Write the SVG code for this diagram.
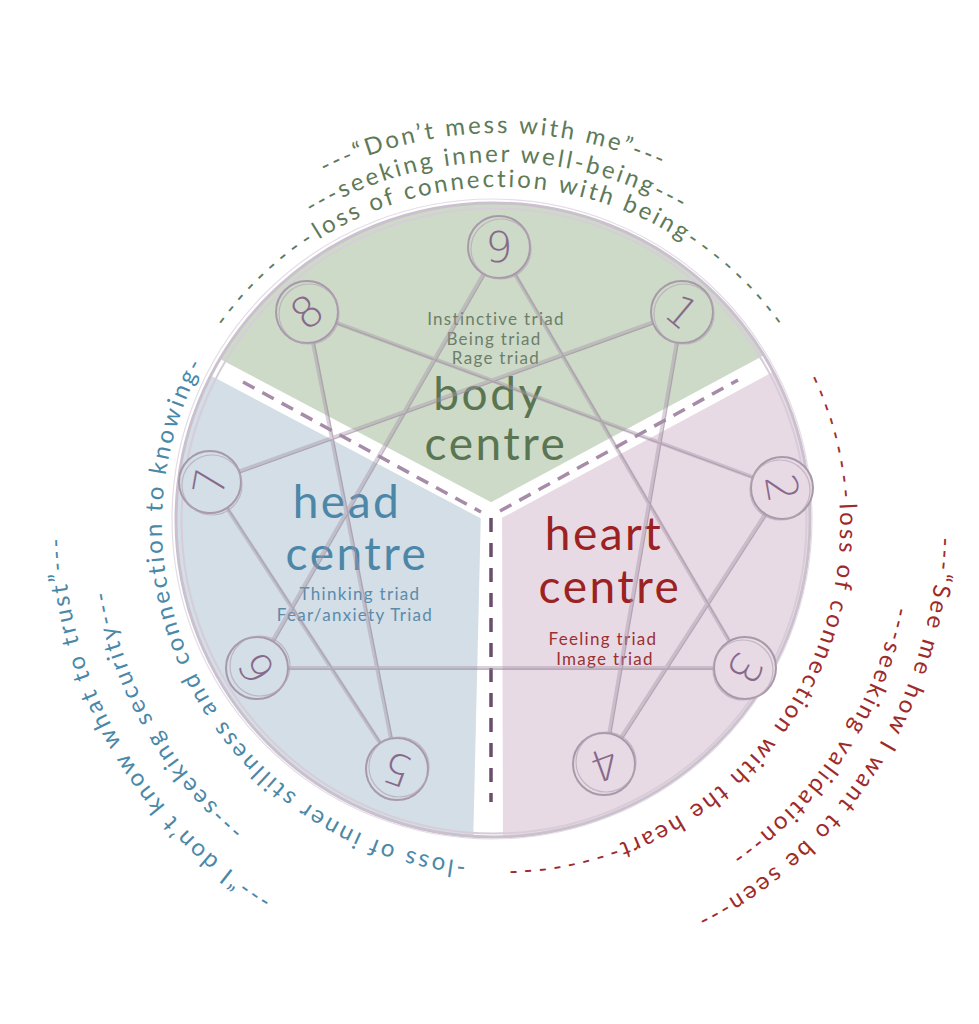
<svg xmlns="http://www.w3.org/2000/svg" width="979" height="1024" viewBox="0 0 979 1024">
<defs>
<style>
.arc { font-family: Lato, "Open Sans", sans-serif; font-size: 24px; letter-spacing: 2.75px; text-anchor: middle; }
.g { fill: #5e7a58; }
.b { fill: #4a88a8; }
.r { fill: #9e2a2a; }
.dash { letter-spacing: 5.5px; }
.big { font-family: Lato, "Open Sans", sans-serif; font-size: 46px; letter-spacing: 2.5px; text-anchor: middle; }
.small { font-family: Lato, "Open Sans", sans-serif; font-size: 17px; letter-spacing: 1.3px; text-anchor: middle; }
.ring { fill: none; stroke: #a899aa; stroke-width: 2; }
.ring2 { fill: none; stroke: #b3a5b5; stroke-width: 1.2; stroke-opacity: 0.7; }
.num { font-family: "DejaVu Sans", sans-serif; font-size: 43px; font-weight: 200; fill: #87698b; text-anchor: middle; dominant-baseline: central; }
.line { stroke: #a594a8; stroke-width: 4; stroke-opacity: 0.42; stroke-linejoin: round; fill: none; }
.line2 { stroke: #9a889d; stroke-width: 1.2; stroke-opacity: 0.5; fill: none; }
.gap { stroke: #ffffff; stroke-width: 19; }
.sep { stroke: #a68ca8; stroke-width: 3.5; stroke-dasharray: 13 9; fill: none; }
.sepv { stroke: #6b4d6e; stroke-width: 3.5; stroke-dasharray: 14 11; fill: none; }
.gs { fill: #cddac8; }
.bs { fill: #d3dee6; }
.ps { fill: #e8dae4; }
</style>
<path id="pT1" d="M108.96,497.65 A392,392 0 0 1 889.85,484.03"/>
<path id="pT2" d="M138.12,496.52 A363,363 0 0 1 861.33,490.21"/>
<path id="pT3" d="M163.50,493.19 A338,338 0 0 1 836.91,497.89"/>
<path id="pL1" d="M630.44,836.82 A338,338 0 0 1 317.40,240.57"/>
<path id="pL2" d="M665.68,886.88 A398,398 0 0 1 274.04,197.36"/>
<path id="pL3" d="M684.68,921.06 A437,437 0 0 1 249.35,167.03"/>
<path id="pR1" d="M704.62,253.46 A340,340 0 0 1 345.64,827.94"/>
<path id="pR2" d="M750.87,209.61 A403,403 0 0 1 307.70,879.16"/>
<path id="pR3" d="M767.25,177.98 A438,438 0 0 1 297.07,913.16"/>
</defs>
<rect width="979" height="1024" fill="#ffffff"/>

<g id="sectors">
<path id="body-sector" class="gs" d="M491,513 L215.3,367.3 A317,317 0 0 1 768.7,363.5 Z"/>
<path id="heart-sector" class="ps" d="M491,513 L768.7,363.5 A317,317 0 0 1 491,837 Z"/>
<path id="head-sector" class="bs" d="M491,513 L491,837 A317,317 0 0 1 215.3,367.3 Z"/>
</g>

<g id="separators">
<line class="gap" x1="491" y1="513" x2="203.7" y2="361.2"/>
<line class="gap" x1="491" y1="513" x2="777.2" y2="358.9"/>
<polygon fill="#ffffff" points="481,508 502,508 503,848 473,848"/>
<line class="sep" x1="243" y1="382" x2="481" y2="512"/>
<line class="sep" x1="500" y1="511" x2="738" y2="380"/>
<line class="sepv" x1="491" y1="518" x2="491" y2="802"/>
</g>

<g id="rim">
<circle cx="493" cy="520" r="317" fill="none" stroke="#cbc1ce" stroke-width="3"/>
<circle cx="494" cy="521" r="312.5" fill="none" stroke="#d6cdd8" stroke-width="2"/>
<circle cx="492" cy="519" r="320" fill="none" stroke="#e4dde6" stroke-width="1.2"/>
</g>

<g id="body-centre">
<text class="small" x="496" y="325" fill="#6d7e69">Instinctive triad</text>
<text class="small" x="494" y="345" fill="#6d7e69">Being triad</text>
<text class="small" x="496" y="364" fill="#6d7e69">Rage triad</text>
<text class="big" x="489" y="410" fill="#5a7551">body</text>
<text class="big" x="496" y="460" fill="#5a7551">centre</text>
</g>

<g id="head-centre">
<text class="big" x="347" y="518" fill="#4c87a8">head</text>
<text class="big" x="357" y="570" fill="#4c87a8">centre</text>
<text class="small" x="360" y="600" fill="#5b8bab">Thinking triad</text>
<text class="small" x="355" y="621" fill="#5b8bab">Fear/anxiety Triad</text>
</g>

<g id="heart-centre">
<text class="big" x="604" y="550" fill="#9b2222">heart</text>
<text class="big" x="610" y="603" fill="#9b2222">centre</text>
<text class="small" x="603" y="645" fill="#9b3030">Feeling triad</text>
<text class="small" x="605" y="665" fill="#9b3030">Image triad</text>
</g>

<g id="connectors">
<path class="line" d="M499,247 L745,668 L257,668 Z M682,312 L604,764 L782,488 L307,312 L397,769 L210,482 Z"/>
<path class="line2" transform="translate(1.5,1.2)" d="M499,247 L745,668 L257,668 Z M682,312 L604,764 L782,488 L307,312 L397,769 L210,482 Z"/>
</g>

<g id="node-9">
<circle class="gs" cx="499" cy="247" r="31"/>
<circle class="ring" cx="499" cy="247" r="31"/>
<circle class="ring2" cx="501" cy="249" r="30"/>
<text class="num" x="499" y="247" transform="rotate(0 499 247)">9</text>
</g>
<g id="node-1">
<circle class="gs" cx="682" cy="312" r="31"/>
<circle class="ring" cx="682" cy="312" r="31"/>
<circle class="ring2" cx="684" cy="314" r="30"/>
<text class="num" x="682" y="312" transform="rotate(40 682 312)">1</text>
</g>
<g id="node-2">
<circle class="ps" cx="782" cy="488" r="31"/>
<circle class="ring" cx="782" cy="488" r="31"/>
<circle class="ring2" cx="780" cy="490" r="30"/>
<text class="num" x="782" y="488" transform="rotate(80 782 488)">2</text>
</g>
<g id="node-3">
<circle class="ps" cx="745" cy="668" r="31"/>
<circle class="ring" cx="745" cy="668" r="31"/>
<circle class="ring2" cx="743" cy="670" r="30"/>
<text class="num" x="745" y="668" transform="rotate(120 745 668)">3</text>
</g>
<g id="node-4">
<circle class="ps" cx="604" cy="764" r="31"/>
<circle class="ring" cx="604" cy="764" r="31"/>
<circle class="ring2" cx="606" cy="762" r="30"/>
<text class="num" x="604" y="764" transform="rotate(160 604 764)">4</text>
</g>
<g id="node-5">
<circle class="bs" cx="397" cy="769" r="31"/>
<circle class="ring" cx="397" cy="769" r="31"/>
<circle class="ring2" cx="399" cy="767" r="30"/>
<text class="num" x="397" y="769" transform="rotate(200 397 769)">5</text>
</g>
<g id="node-6">
<circle class="bs" cx="257" cy="668" r="31"/>
<circle class="ring" cx="257" cy="668" r="31"/>
<circle class="ring2" cx="260" cy="666" r="30"/>
<text class="num" x="257" y="668" transform="rotate(240 257 668)">6</text>
</g>
<g id="node-7">
<circle class="bs" cx="210" cy="482" r="31"/>
<circle class="ring" cx="210" cy="482" r="31"/>
<circle class="ring2" cx="212" cy="485" r="30"/>
<text class="num" x="210" y="482" transform="rotate(280 210 482)">7</text>
</g>
<g id="node-8">
<circle class="gs" cx="307" cy="312" r="31"/>
<circle class="ring" cx="307" cy="312" r="31"/>
<circle class="ring2" cx="309" cy="314" r="30"/>
<text class="num" x="307" y="312" transform="rotate(320 307 312)">8</text>
</g>

<g id="labels-body">
<text class="arc g"><textPath href="#pT1" startOffset="50%">---“Don’t mess with me”---</textPath></text>
<text class="arc g"><textPath href="#pT2" startOffset="50%">---seeking inner well-being---</textPath></text>
<text class="arc g"><textPath href="#pT3" startOffset="50%"><tspan class="dash">---------</tspan>loss of connection with being<tspan class="dash">---------</tspan></textPath></text>
</g>

<g id="labels-head">
<text class="arc b"><textPath href="#pL1" startOffset="50%">-loss of inner stillness and connection to knowing-</textPath></text>
<text class="arc b"><textPath href="#pL2" startOffset="50%">---seeking security---</textPath></text>
<text class="arc b"><textPath href="#pL3" startOffset="50%">---“I don’t know what to trust”---</textPath></text>
</g>

<g id="labels-heart">
<text class="arc r"><textPath href="#pR1" startOffset="50%"><tspan class="dash">---------</tspan>loss of connection with the heart<tspan class="dash">--------</tspan></textPath></text>
<text class="arc r"><textPath href="#pR2" startOffset="50%">---seeking validation---</textPath></text>
<text class="arc r"><textPath href="#pR3" startOffset="50%">---“See me how I want to be seen---</textPath></text>
</g>
</svg>
